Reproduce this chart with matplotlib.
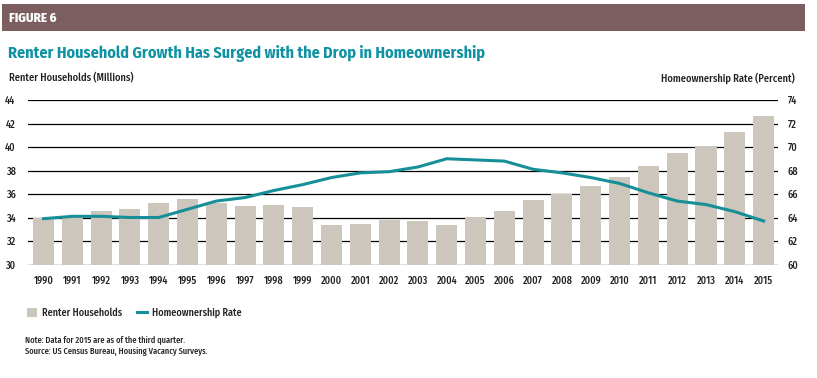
import numpy as np
import matplotlib.pyplot as plt
from matplotlib.patches import Rectangle
from matplotlib.lines import Line2D

# 데이터
years = [str(y) for y in range(1990, 2016)]
renters = [34.0, 34.1, 34.55, 34.7, 35.2, 35.6, 35.25, 35.0, 35.05, 34.9,
           33.35, 33.45, 33.8, 33.7, 33.35, 34.05, 34.55, 35.5, 36.0, 36.7,
           37.45, 38.4, 39.5, 40.1, 41.3, 42.6]
homeown = [63.9, 64.1, 64.1, 64.0, 64.0, 64.7, 65.4, 65.7, 66.3, 66.8,
           67.4, 67.8, 67.9, 68.3, 69.0, 68.9, 68.8, 68.1, 67.8, 67.4,
           66.9, 66.1, 65.4, 65.1, 64.5, 63.7]
left_ticks = [30, 32, 34, 36, 38, 40, 42, 44]
right_ticks = [60, 62, 64, 66, 68, 70, 72, 74]

bar_color = '#cdc6bd'
line_color = '#168f98'
title_color = '#0f93a3'
header_color = '#7d5e60'
txt = '#231f20'

plt.rcParams['font.family'] = ['Fira Sans Condensed', 'DejaVu Sans']
plt.rcParams['font.weight'] = 500

W, H = 817, 378
fig = plt.figure(figsize=(W / 100, H / 100), dpi=100)

# 헤더 바
fig.patches.append(Rectangle((2 / W, 1 - 31 / H), 803 / W, 27 / H, transform=fig.transFigure,
                             facecolor=header_color, edgecolor='none'))
fig.text(9 / W, 1 - 18 / H, 'FIGURE 6', color='white', fontsize=9.3, fontweight=800, va='center')
fig.text(8 / W, 1 - 54 / H, 'Renter Household Growth Has Surged with the Drop in Homeownership',
         color=title_color, fontsize=11.6, fontweight=700, va='center')
fig.text(9 / W, 1 - 78 / H, 'Renter Households (Millions)', color=txt, fontsize=7.5, va='center')
fig.text(795 / W, 1 - 78 / H, 'Homeownership Rate (Percent)', color=txt, fontsize=7.5, va='center', ha='right')

ax = fig.add_axes([28 / W, 1 - 264.5 / H, 750 / W, 164.5 / H])
x = np.arange(len(years))
ax.bar(x, renters, width=0.73, color=bar_color, zorder=2)
ax.set_ylim(30, 44)
ax.set_xlim(-0.54, 25.5)
ax.set_yticks(left_ticks)
for t in left_ticks:
    ax.axhline(t, color='black', lw=0.9, zorder=1)
ax.set_xticks(x)
ax.set_xticklabels(years)
ax.tick_params(axis='both', length=0, labelsize=7.3, colors=txt)
ax.tick_params(axis='x', pad=8)
ax.tick_params(axis='y', pad=9)
for s in ax.spines.values():
    s.set_visible(False)

ax2 = ax.twinx()
ax2.plot(x, homeown, color=line_color, lw=2.2, zorder=3)
ax2.set_ylim(60, 74)
ax2.set_yticks(right_ticks)
ax2.tick_params(axis='y', length=0, labelsize=7.3, colors=txt, pad=7)
for s in ax2.spines.values():
    s.set_visible(False)

# 범례
handles = [Rectangle((0, 0), 1, 1, facecolor=bar_color, edgecolor='none'),
           Line2D([0], [0], color=line_color, lw=2.2)]
fig.legend(handles, ['Renter Households', 'Homeownership Rate'], loc='center left',
           bbox_to_anchor=(18 / W, 1 - 313 / H), ncol=2, frameon=False, fontsize=7.3,
           handlelength=1.0, handleheight=1.0, columnspacing=1.4, handletextpad=0.5,
           labelcolor=txt)

fig.text(25 / W, 1 - 340 / H, 'Note: Data for 2015 are as of the third quarter.', color=txt, fontsize=6, va='center')
fig.text(25 / W, 1 - 352 / H, 'Source: US Census Bureau, Housing Vacancy Surveys.', color=txt, fontsize=6, va='center')

fig.savefig('out.png', dpi=100)
